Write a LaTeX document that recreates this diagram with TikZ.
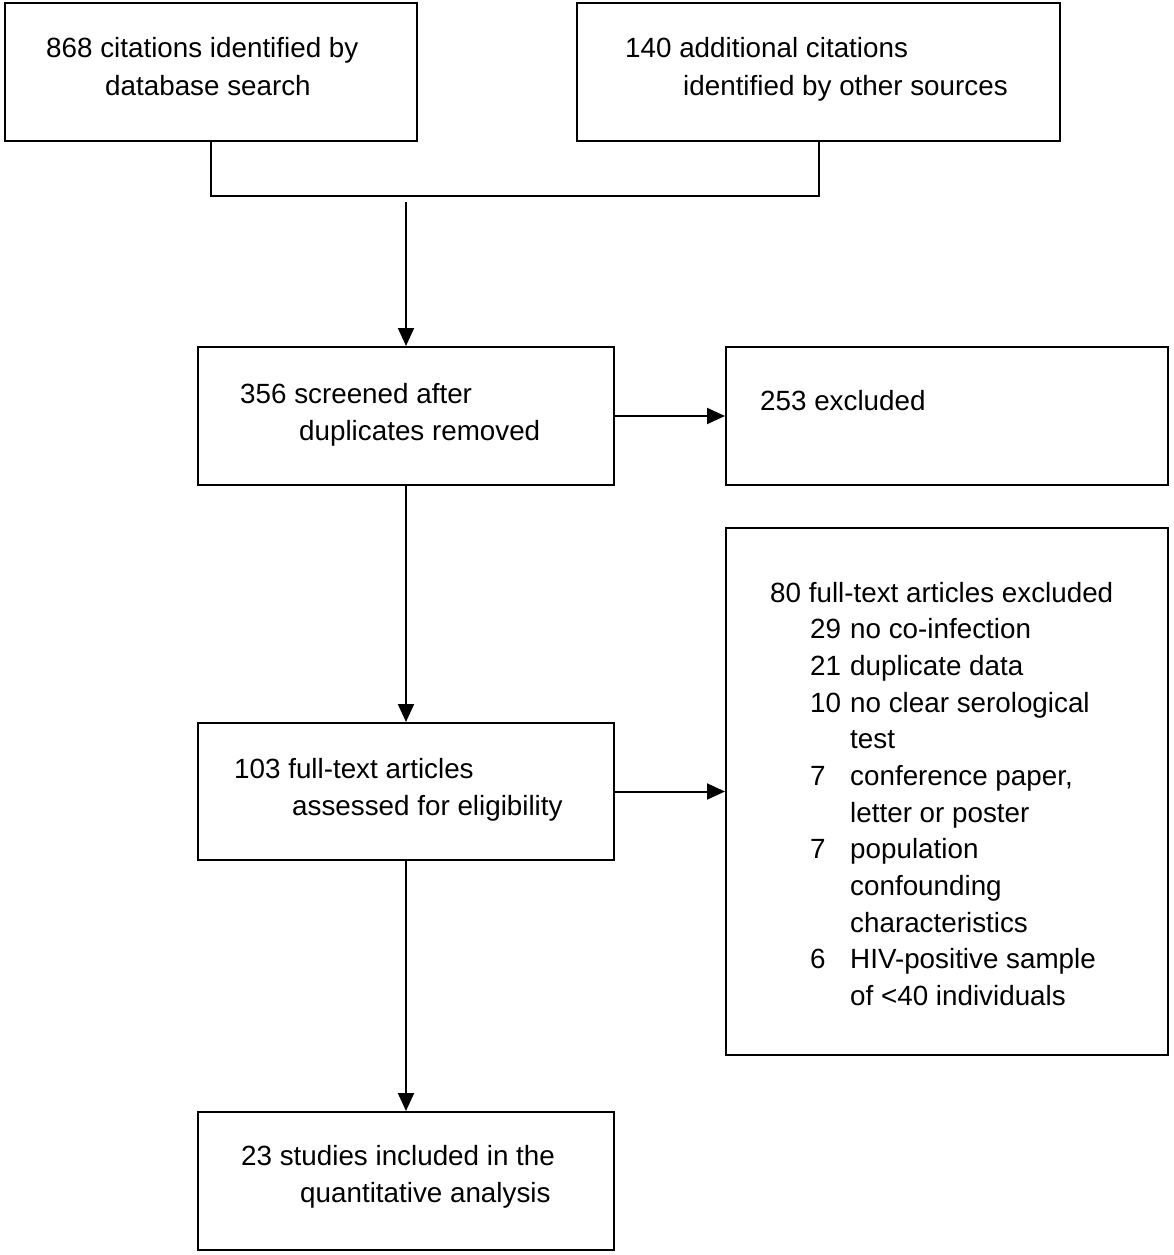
\documentclass[tikz,border=0pt]{standalone}
\usepackage{fontspec}
\setmainfont{Liberation Sans}
\usetikzlibrary{arrows.meta}
\begin{document}
\begin{tikzpicture}[x=1pt,y=-1pt,
  box/.style={draw,line width=2pt,inner sep=0pt,minimum width=#1},
  txt/.style={anchor=base west,inner sep=0pt,font=\fontsize{27.8}{37}\selectfont},
  conn/.style={line width=2pt},
  arr/.style={line width=2pt,-{Triangle[length=18pt,width=16pt]}}]
\useasboundingbox (0,0) rectangle (1174,1255);
% boxes
\node[box=412pt,minimum height=138pt] (b1) at (211,72) {};
\node[box=483pt,minimum height=138pt] (b2) at (818.5,72) {};
\node[box=416pt,minimum height=138pt] (b3) at (406,416) {};
\node[box=442pt,minimum height=138pt] (b4) at (947,416) {};
\node[box=442pt,minimum height=527pt] (b5) at (947,791.5) {};
\node[box=416pt,minimum height=137pt] (b6) at (406,791.5) {};
\node[box=416pt,minimum height=138pt] (b7) at (406,1181) {};
% texts
\node[txt] (t1a) at (46,58) {868 citations identified by};
\node[txt] (t1b) at (105,95) {database search};
\node[txt] (t2a) at (625,58) {140 additional citations};
\node[txt] (t2b) at (683,95) {identified by other sources};
\node[txt] (t3a) at (240,403) {356 screened after};
\node[txt] (t3b) at (299,440) {duplicates removed};
\node[txt] (t4a) at (760,410) {253 excluded};
\node[txt] (t5a) at (770,602) {80 full-text articles excluded};
\node[txt] (n1) at (810,638) {29};
\node[txt] (r1) at (850,638) {no co-infection};
\node[txt] (n2) at (810,675) {21};
\node[txt] (r2) at (850,675) {duplicate data};
\node[txt] (n3) at (810,712) {10};
\node[txt] (r3a) at (850,712) {no clear serological};
\node[txt] (r3b) at (850,748) {test};
\node[txt] (n4) at (810,785) {7};
\node[txt] (r4a) at (850,785) {conference paper,};
\node[txt] (r4b) at (850,822) {letter or poster};
\node[txt] (n5) at (810,858) {7};
\node[txt] (r5a) at (850,858) {population};
\node[txt] (r5b) at (850,895) {confounding};
\node[txt] (r5c) at (850,932) {characteristics};
\node[txt] (n6) at (810,968) {6};
\node[txt] (r6a) at (850,968) {HIV-positive sample};
\node[txt] (r6b) at (850,1005) {of <40 individuals};
\node[txt] (t6a) at (234,778) {103 full-text articles};
\node[txt] (t6b) at (292,815) {assessed for eligibility};
\node[txt] (t7a) at (241,1165) {23 studies included in the};
\node[txt] (t7b) at (300,1202) {quantitative analysis};
% connectors
\coordinate (jL) at (211,196);
\coordinate (jR) at (818.5,196);
\coordinate (m) at (406,202);
\draw[conn] (b1.south) -- (jL) -- (jR) -- (b2.south);
\draw[arr] (m) -- (b3.north);
\draw[arr] (b3.east) -- (b4.west);
\draw[arr] (b3.south) -- (b6.north);
\draw[arr] (b6.east) -- (b5.west);
\draw[arr] (b6.south) -- (b7.north);
\end{tikzpicture}
\end{document}
